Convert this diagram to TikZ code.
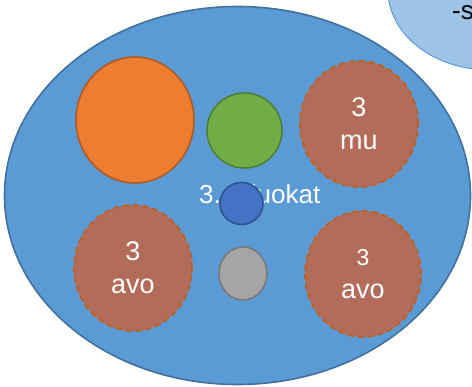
\documentclass[tikz,border=0pt]{standalone}
\usepackage{fontspec}
\setmainfont{Liberation Sans}
\usetikzlibrary{shapes.geometric}
\definecolor{bigfill}{HTML}{5B9BD5}
\definecolor{bigline}{HTML}{41719C}
\definecolor{lightfill}{HTML}{9DC3E6}
\definecolor{lightline}{HTML}{5B9BD5}
\definecolor{orfill}{HTML}{ED7D31}
\definecolor{orline}{HTML}{AE5A21}
\definecolor{grfill}{HTML}{70AD47}
\definecolor{grline}{HTML}{507E32}
\definecolor{brfill}{HTML}{B46C5A}
\definecolor{brline}{HTML}{C0601F}
\definecolor{blfill}{HTML}{4472C4}
\definecolor{blline}{HTML}{2F528F}
\definecolor{gyfill}{HTML}{A5A5A5}
\definecolor{gyline}{HTML}{787878}
\begin{document}
\begin{tikzpicture}[x=1pt,y=-1pt,
  blob/.style={ellipse,inner sep=0pt,line width=1.6pt},
  group/.style={blob,fill=brfill,draw=brline,line width=1.8pt,dash pattern=on 6pt off 4pt,
     text=white,align=center,font=\fontsize{27}{33}\selectfont},
  lbl/.style={text=white,inner sep=0pt}]
\useasboundingbox (0,0) rectangle (472,387);
\clip (0,0) rectangle (472,387);
\node[blob,draw=lightline,fill=lightfill,line width=1pt,minimum width=204pt,minimum height=160pt] (top) at (490,-10) {};
\node[anchor=base west,inner sep=0pt,font=\fontsize{26}{30}\selectfont] (toptext) at (452,20) {-s};
\node[blob,draw=bigline,fill=bigfill,minimum width=466pt,minimum height=378pt] (big) at (237.5,195.5) {};
\node[lbl,font=\fontsize{26}{30}\selectfont,anchor=base west] (title) at (199,204) {3.\hspace{30pt}luokat};
\node[blob,draw=orline,fill=orfill,minimum width=118pt,minimum height=126pt] (orange) at (135,120) {};
\node[blob,draw=grline,fill=grfill,minimum width=75pt,minimum height=75pt] (green) at (244.5,130.5) {};
\node[group,minimum width=118pt,minimum height=126pt] (mu) at (359,124) {3\\mu};
\node[blob,draw=blline,fill=blfill,minimum width=43pt,minimum height=42pt] (blue) at (241.5,203.5) {};
\node[blob,draw=gyline,fill=gyfill,minimum width=48pt,minimum height=53pt] (grey) at (243,273.5) {};
\node[group,minimum width=118pt,minimum height=126pt] (avoL) at (133,268) {3\\avo};
\node[group,minimum width=116pt,minimum height=126pt] (avoR) at (363,274) {{\fontsize{23}{33}\selectfont 3}\\avo};
\end{tikzpicture}
\end{document}
